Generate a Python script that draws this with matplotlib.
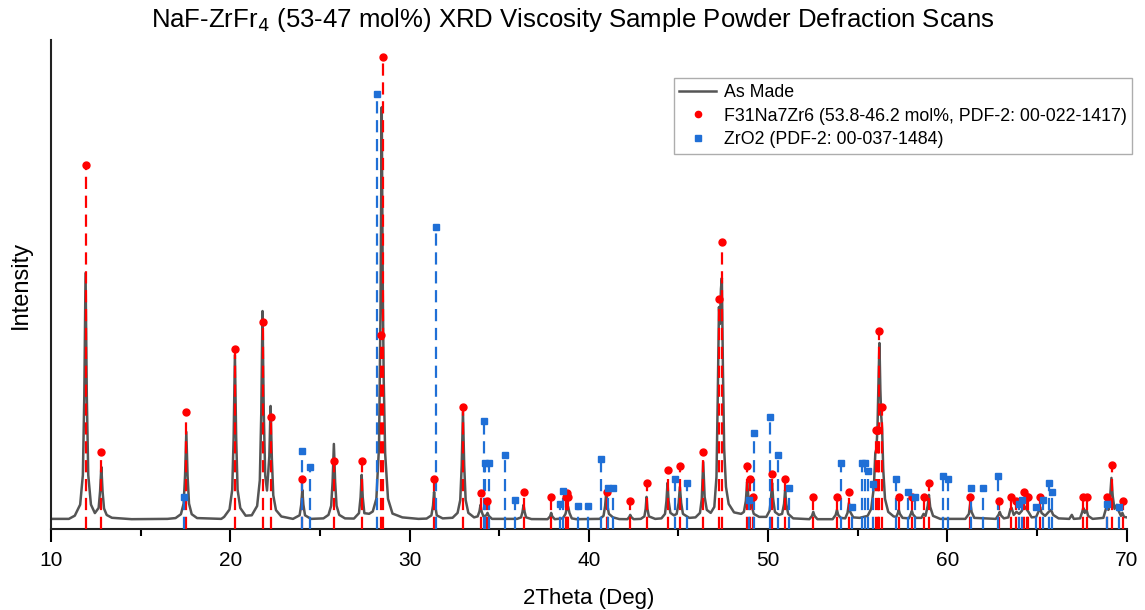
import numpy as np
import matplotlib.pyplot as plt

scan_2theta = [
    10.0, 11.0,
    11.33, 11.63, 11.78, 11.86, 11.93, 12.00, 12.08, 12.23, 12.45,
    12.66, 12.74, 12.81, 12.88, 12.96, 13.11, 13.4, 14.5, 16.5,
    16.95, 17.25, 17.40, 17.48, 17.55, 17.62, 17.70, 17.85, 18.15, 19.5,
    19.66, 19.96, 20.11, 20.19, 20.26, 20.33, 20.41, 20.56, 20.86, 21.2,
    21.50, 21.65, 21.73, 21.80, 21.87, 21.95, 22.05, 22.18, 22.25, 22.32, 22.40, 22.55, 22.85,
    23.5, 23.87, 23.96, 24.02, 24.08, 24.17, 24.5,
    25.2, 25.48, 25.63, 25.71, 25.78, 25.85, 25.93, 26.08, 26.4,
    26.9, 27.18, 27.27, 27.33, 27.39, 27.48, 27.75,
    27.95, 28.15, 28.30, 28.38, 28.45, 28.51, 28.56, 28.64, 28.80, 29.05, 29.6, 30.5,
    30.95, 31.22, 31.31, 31.37, 31.43, 31.52, 31.85,
    32.4, 32.68, 32.83, 32.91, 32.98, 33.05, 33.13, 33.28, 33.6,
    33.80, 33.90, 33.96, 34.02, 34.12, 34.28, 34.35, 34.42, 34.6,
    36.0, 36.22, 36.30, 36.36, 36.42, 36.50, 36.8,
    37.7, 37.84, 37.9, 37.96, 38.1,
    38.55, 38.7, 38.78, 38.85, 38.92, 39.05, 39.3,
    40.6, 40.82, 40.91, 40.97, 41.03, 41.12, 41.35, 41.7,
    42.15, 42.26, 42.31, 42.36, 42.5,
    42.9, 43.10, 43.17, 43.22, 43.27, 43.35, 43.7,
    44.05, 44.25, 44.33, 44.39, 44.45, 44.55, 44.75,
    44.90, 45.01, 45.08, 45.15, 45.25, 45.6,
    45.95, 46.2, 46.30, 46.38, 46.46, 46.58, 46.8,
    47.0, 47.12, 47.19, 47.26, 47.31, 47.37, 47.42, 47.48, 47.55, 47.65, 47.8, 48.1, 48.5,
    48.65, 48.76, 48.83, 48.90, 48.96, 49.00, 49.07, 49.2, 49.5,
    49.9, 50.08, 50.16, 50.22, 50.28, 50.38, 50.6,
    50.78, 50.89, 50.95, 51.01, 51.12, 51.4,
    52.3, 52.45, 52.52, 52.59, 52.75,
    53.6, 53.77, 53.84, 53.91, 54.05,
    54.3, 54.43, 54.51, 54.58, 54.75, 55.1,
    55.55, 55.75, 55.90, 55.98, 56.04, 56.10, 56.16, 56.21, 56.26, 56.31, 56.36, 56.42, 56.52, 56.7, 57.0,
    57.15, 57.24, 57.29, 57.35, 57.5,
    57.85, 57.96, 58.02, 58.08, 58.25,
    58.55, 58.67, 58.78, 58.90, 58.97, 59.04, 59.2, 59.6,
    61.0, 61.20, 61.28, 61.35, 61.5,
    62.7, 62.85, 62.92, 62.99, 63.15,
    63.40, 63.52, 63.58, 63.70, 63.85, 64.00, 64.15, 64.28, 64.40, 64.52, 64.7,
    64.95, 65.10, 65.17, 65.25, 65.45, 65.65, 65.78, 65.9, 66.2,
    66.8, 66.94, 67.05,
    67.4, 67.52, 67.58, 67.66, 67.76, 67.85, 68.1,
    68.7, 68.84, 68.91, 68.98, 69.08, 69.15, 69.22, 69.32, 69.45, 69.55, 69.68, 69.76, 69.85, 70.0,
]
scan_counts = [
    100, 100,
    132, 243, 539, 1327, 2560, 1327, 539, 243, 158,
    210, 375, 620, 372, 204, 139, 111, 97, 100,
    108, 147, 253, 532, 970, 532, 253, 147, 108, 100,
    120, 194, 391, 917, 1740, 917, 391, 209, 132, 136,
    229, 487, 1152, 2180, 1165, 535, 384, 727, 1230, 707, 337, 188, 124,
    100, 136, 243, 390, 243, 136, 100,
    105, 140, 231, 473, 850, 473, 231, 140, 105,
    103, 157, 317, 540, 317, 157, 151,
    174, 301, 832, 2157, 4220, 2360, 1500, 755, 300, 153, 115, 100,
    103, 135, 233, 370, 233, 135, 105,
    111, 160, 289, 633, 1170, 633, 289, 160, 115,
    125, 175, 240, 175, 125, 135, 160, 130, 100,
    100, 115, 170, 240, 170, 115, 98,
    97, 125, 160, 125, 97,
    105, 150, 210, 220, 160, 105, 97,
    100, 130, 230, 360, 240, 150, 115, 98,
    97, 120, 140, 120, 97,
    100, 125, 200, 320, 200, 125, 100,
    105, 150, 280, 460, 280, 160, 135,
    150, 260, 420, 260, 150, 110,
    115, 160, 300, 670, 320, 190, 160,
    220, 520, 1300, 2220, 2050, 2400, 2510, 1600, 800, 420, 250, 165, 150,
    170, 280, 470, 320, 300, 320, 240, 150, 120,
    120, 180, 300, 460, 300, 170, 140,
    150, 250, 390, 250, 150, 105,
    97, 130, 170, 130, 97,
    97, 140, 190, 140, 110,
    105, 160, 260, 170, 115, 110,
    130, 200, 420, 760, 800, 1000, 1500, 1860, 1400, 1130, 1000, 600, 300, 170, 125,
    120, 160, 190, 150, 110,
    105, 150, 180, 145, 110,
    110, 150, 130, 230, 340, 220, 130, 100,
    100, 150, 260, 170, 110,
    100, 140, 170, 135, 105,
    115, 200, 210, 140, 170, 150, 180, 230, 200, 170, 115,
    120, 180, 220, 160, 130, 170, 190, 140, 105,
    100, 140, 100,
    105, 170, 210, 160, 190, 130, 100,
    110, 200, 240, 190, 330, 510, 330, 200, 240, 180, 130, 160, 120, 115,
]

# reference pattern F31Na7Zr6 (PDF-2: 00-022-1417)
naf_pos = [11.93, 12.81, 17.55, 20.26, 21.80, 22.25, 24.02, 25.78, 27.33, 28.39,
           28.50, 31.34, 32.98, 33.96, 34.33, 36.36, 37.90, 38.70, 38.78, 38.86,
           40.99, 42.31, 43.22, 44.39, 45.08, 46.38, 47.26, 47.42, 48.83, 48.98,
           49.13, 50.23, 50.95, 52.52, 53.84, 54.51, 56.01, 56.11, 56.20, 56.33,
           57.29, 58.02, 58.67, 58.97, 61.26, 62.89, 63.54, 63.82, 64.27, 64.42,
           64.51, 65.16, 67.58, 67.76, 68.91, 69.17, 69.77]
naf_int = [3640, 770, 1170, 1800, 2070, 1120, 500, 680, 680, 1940,
           4720, 500, 1220, 360, 280, 370, 320, 320, 360, 320,
           370, 280, 460, 590, 630, 770, 2300, 2870, 630, 500,
           320, 550, 500, 320, 320, 370, 990, 990, 1980, 1220,
           320, 320, 320, 460, 320, 280, 320, 280, 370, 320,
           320, 320, 320, 320, 320, 640, 280]

# reference pattern ZrO2 (PDF-2: 00-037-1484)
zro2_pos = [17.42, 24.02, 24.45, 28.16, 31.45, 34.13, 34.22, 34.41, 35.30, 35.88,
            38.39, 38.54, 39.39, 39.97, 40.68, 41.08, 41.34, 44.78, 45.47, 48.93,
            49.23, 50.10, 50.53, 51.16, 54.06, 54.66, 55.21, 55.40, 55.55, 55.83,
            57.13, 57.81, 58.20, 59.73, 60.04, 61.33, 61.96, 62.80, 64.01, 64.17,
            64.94, 65.34, 65.64, 65.81, 68.88, 69.56]
zro2_int = [320, 780, 620, 4350, 3020, 1080, 660, 660, 740, 290,
            250, 380, 230, 230, 700, 410, 410, 500, 460, 290,
            960, 1120, 740, 410, 660, 220, 660, 660, 580, 450,
            500, 370, 320, 530, 500, 410, 410, 530, 250, 290,
            220, 290, 460, 370, 250, 220]

plt.rcParams['font.family'] = ['Liberation Sans', 'DejaVu Sans']

fig = plt.figure(figsize=(11.45, 6.10), dpi=100)
ax = fig.add_axes([0.0445, 0.133, 0.9395, 0.801])

ax.plot(scan_2theta, scan_counts, color='#555555', lw=1.8, zorder=2, label='As Made')

red = '#ff0000'
blue = '#1f6fd6'
ax.vlines(naf_pos, 0, naf_int, colors=red, linestyles=(0, (5.5, 3)), lw=1.6, zorder=3)
ax.vlines(zro2_pos, 0, zro2_int, colors=blue, linestyles=(0, (5.5, 3)), lw=1.6, zorder=3)
ax.plot(naf_pos, naf_int, 'o', color=red, ms=5, zorder=4,
        label='F31Na7Zr6 (53.8-46.2 mol%, PDF-2: 00-022-1417)')
ax.plot(zro2_pos, zro2_int, 's', color=blue, ms=5, zorder=4,
        label='ZrO2 (PDF-2: 00-037-1484)')

ax.set_xlim(10, 70)
ax.set_ylim(0, 4890)
ax.set_xticks([10, 20, 30, 40, 50, 60, 70])
ax.set_xticks([15, 25, 35, 45, 55, 65], minor=True)
ax.set_yticks([])
for s in ['top', 'right']:
    ax.spines[s].set_visible(False)
for s in ['left', 'bottom']:
    ax.spines[s].set_linewidth(1.5)
    ax.spines[s].set_color('#222222')
ax.tick_params(axis='x', which='major', length=9, width=1.5, labelsize=15, pad=7)
ax.tick_params(axis='x', which='minor', length=5, width=1.5)

ax.set_xlabel('2Theta (Deg)', fontsize=16, labelpad=13)
ax.set_ylabel('Intensity', fontsize=17, labelpad=14)
fig.suptitle(r'NaF-ZrFr$_4$ (53-47 mol%) XRD Viscosity Sample Powder Defraction Scans',
             fontsize=18.5, y=0.99)

leg = ax.legend(loc='upper right', bbox_to_anchor=(1.013, 0.94), fontsize=12.8,
                frameon=True, fancybox=False, handlelength=2.1, handletextpad=0.4,
                borderpad=0.3, labelspacing=0.38, markerscale=0.9)
leg.get_frame().set_edgecolor('#999999')
leg.get_frame().set_linewidth(1.0)

fig.savefig('out.png', dpi=100)
